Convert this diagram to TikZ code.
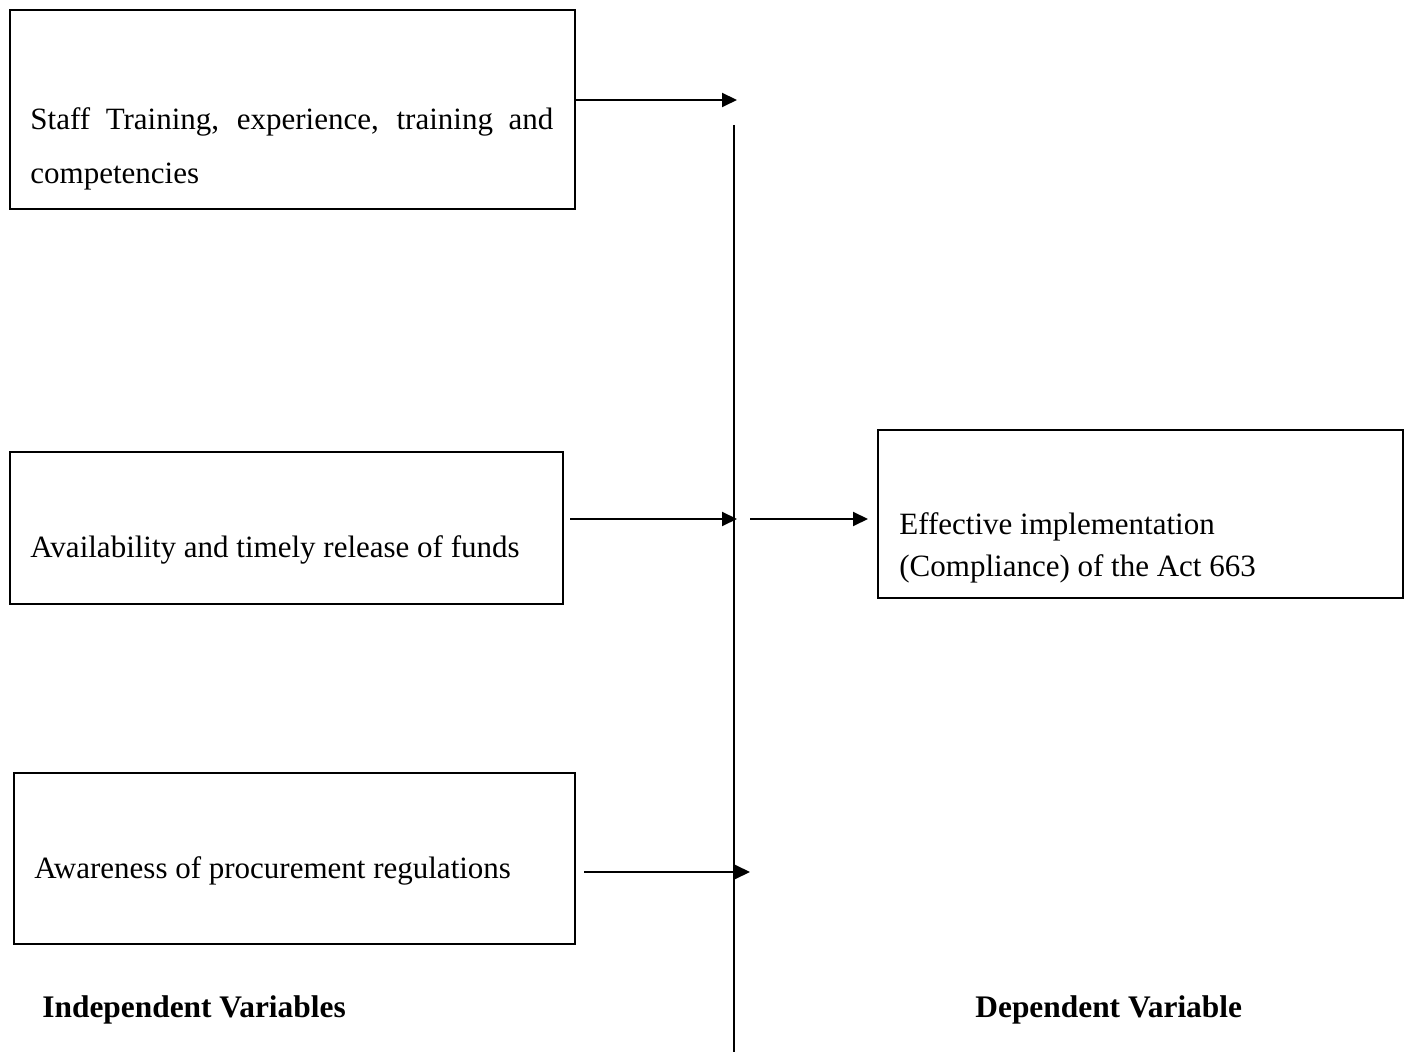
\documentclass[tikz,border=0pt]{standalone}
\usepackage{fontspec}
\setmainfont{Liberation Serif}
\usetikzlibrary{arrows.meta}
\begin{document}
\begin{tikzpicture}[x=0.5pt,y=-0.5pt,
  box/.style={draw,line width=1pt,inner sep=0,outer sep=0,anchor=north west},
  conn/.style={line width=1pt,-{Triangle[length=7.5pt,width=7pt]}},
  txt/.style={inner sep=0,anchor=base west,font=\fontsize{15.5}{18}\selectfont},
  head/.style={inner sep=0,anchor=base west,font=\fontsize{15.7}{18}\selectfont\bfseries}]
\useasboundingbox (0,0) rectangle (1408,1052);
% boxes
\node[box,minimum width=282.5pt,minimum height=99.5pt] (b1) at (10,10) {};
\node[box,minimum width=276.5pt,minimum height=76pt] (b2) at (10,452) {};
\node[box,minimum width=280.5pt,minimum height=85.5pt] (b3) at (14,773) {};
\node[box,minimum width=262.5pt,minimum height=84pt] (b4) at (878,430) {};
% texts
\node[txt] (t1a) at (30,130) {\makebox[261.5pt][s]{Staff Training, experience, training and}};
\node[txt] (t1b) at (30,184) {competencies};
\node[txt] (t2) at (30,558) {Availability and timely release of funds};
\node[txt] (t3) at (34,878) {Awareness of procurement regulations};
\node[txt] (t4a) at (899,535) {Effective implementation};
\node[txt] (t4b) at (899,577) {(Compliance) of the Act 663};
\node[head] (h1) at (42,1017) {Independent Variables};
\node[head] (h2) at (975,1017) {Dependent Variable};
% vertical line
\coordinate (v1) at (734,125);
\coordinate (v2) at (734,1052);
\draw[line width=1pt] (v1) -- (v2);
% connectors
\coordinate (e1) at (737,100);
\draw[conn] (b1.east |- e1) -- (e1);
\coordinate (s2) at (570,519);
\coordinate (e2) at (737,519);
\draw[conn] (s2) -- (e2);
\coordinate (s3) at (750,519);
\draw[conn,shorten >=5pt] (s3) -- (b4.west |- s3);
\coordinate (s4) at (584,872);
\coordinate (e4) at (750,872);
\draw[conn] (s4) -- (e4);
\end{tikzpicture}
\end{document}
